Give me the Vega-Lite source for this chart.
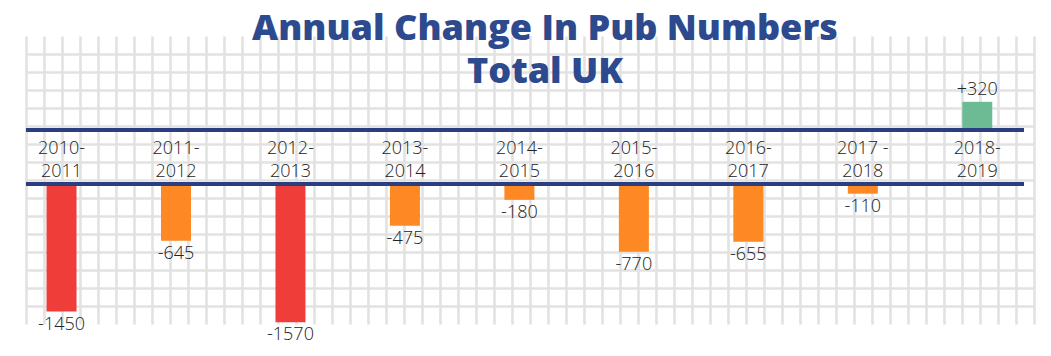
{
  "$schema": "https://vega.github.io/schema/vega-lite/v6.json",
  "width": 1008,
  "height": 288,
  "autosize": {"type": "none"},
  "padding": {"left": 26, "top": 36, "right": 17, "bottom": 32},
  "background": "white",
  "config": {
    "view": {"stroke": null},
    "locale": {"number": {"decimal": ".", "thousands": ",", "grouping": [3], "currency": ["£", ""], "minus": "-"}}
  },
  "title": {
    "text": ["Annual Change In Pub Numbers", "Total UK"],
    "font": "Open Sans",
    "fontWeight": 800,
    "fontSize": 36,
    "color": "#2c4a8d",
    "lineHeight": 43,
    "anchor": "middle",
    "frame": "group",
    "offset": -55,
    "dx": 15
  },
  "data": {
    "values": [
      {"period": "2010-\n2011", "change": -1450, "type": "Large fall"},
      {"period": "2011-\n2012", "change": -645, "type": "Fall"},
      {"period": "2012-\n2013", "change": -1570, "type": "Large fall"},
      {"period": "2013-\n2014", "change": -475, "type": "Fall"},
      {"period": "2014-\n2015", "change": -180, "type": "Fall"},
      {"period": "2015-\n2016", "change": -770, "type": "Fall"},
      {"period": "2016-\n2017", "change": -655, "type": "Fall"},
      {"period": "2017 -\n2018", "change": -110, "type": "Fall"},
      {"period": "2018-\n2019", "change": 320, "type": "Rise"}
    ]
  },
  "layer": [
    {
      "mark": {"type": "point", "opacity": 0},
      "encoding": {
        "x": {
          "datum": 0,
          "type": "quantitative",
          "scale": {"domain": [0, 56], "nice": false, "zero": false},
          "axis": {"grid": true, "gridColor": "#e2e2e2", "gridWidth": 2.6, "labels": false, "ticks": false, "domain": false, "title": null, "tickCount": 56}
        },
        "y": {
          "datum": 0,
          "type": "quantitative",
          "scale": {"domain": [0, 16], "nice": false, "zero": false},
          "axis": {"grid": true, "gridColor": "#e2e2e2", "gridWidth": 2.6, "labels": false, "ticks": false, "domain": false, "title": null, "values": [1, 2, 3, 4, 5, 6, 7, 8, 9, 10, 11, 12, 13, 14, 15]}
        }
      }
    },
    {
      "layer": [
        {
          "transform": [{"filter": "datum.change < 0"}],
          "mark": {"type": "bar", "size": 30, "yOffset": 54, "y2Offset": 54},
          "encoding": {
            "x": {
              "field": "period",
              "type": "nominal",
              "sort": null,
              "scale": {"domain": ["2010-\n2011", "2011-\n2012", "2012-\n2013", "2013-\n2014", "2014-\n2015", "2015-\n2016", "2016-\n2017", "2017 -\n2018", "2018-\n2019"], "range": [-21.7, 1008.5], "paddingInner": 0, "paddingOuter": 0},
              "axis": null
            },
            "y": {"field": "change", "type": "quantitative", "scale": {"domain": [-2204.5, 1068.2], "nice": false, "zero": false}, "axis": null},
            "y2": {"datum": 0},
            "color": {"field": "type", "type": "nominal", "scale": {"domain": ["Large fall", "Fall", "Rise"], "range": ["#ef3d3a", "#fd8824", "#6dbb95"]}, "legend": null}
          }
        },
        {
          "transform": [{"filter": "datum.change >= 0"}],
          "mark": {"type": "bar", "size": 30},
          "encoding": {
            "x": {"field": "period", "type": "nominal", "sort": null},
            "y": {"field": "change", "type": "quantitative"},
            "y2": {"datum": 0},
            "color": {"field": "type", "type": "nominal"}
          }
        },
        {
          "mark": {"type": "rule", "color": "#2b3e80", "strokeWidth": 3.5, "xOffset": -10, "x2Offset": -10},
          "encoding": {"y": {"datum": 0, "type": "quantitative"}}
        },
        {
          "mark": {"type": "rule", "color": "#2b3e80", "strokeWidth": 3.5, "xOffset": -10, "x2Offset": -10, "yOffset": 54},
          "encoding": {"y": {"datum": 0, "type": "quantitative"}}
        },
        {
          "mark": {"type": "text", "font": "Open Sans", "fontWeight": 300, "fontSize": 18, "color": "#222222", "baseline": "middle", "align": "center", "lineBreak": "\n", "lineHeight": 23, "yOffset": 19},
          "encoding": {
            "x": {"field": "period", "type": "nominal", "sort": null},
            "y": {"datum": 0, "type": "quantitative"},
            "text": {"field": "period"}
          }
        },
        {
          "transform": [{"filter": "datum.change < 0"}],
          "mark": {"type": "text", "font": "Open Sans", "fontWeight": 300, "fontSize": 18, "color": "#222222", "baseline": "top", "align": "center", "yOffset": 58},
          "encoding": {
            "x": {"field": "period", "type": "nominal", "sort": null},
            "y": {"field": "change", "type": "quantitative"},
            "text": {"field": "change", "type": "quantitative", "format": "+d"}
          }
        },
        {
          "transform": [{"filter": "datum.change >= 0"}],
          "mark": {"type": "text", "font": "Open Sans", "fontWeight": 300, "fontSize": 18, "color": "#222222", "baseline": "bottom", "align": "center", "yOffset": -3},
          "encoding": {
            "x": {"field": "period", "type": "nominal", "sort": null},
            "y": {"field": "change", "type": "quantitative"},
            "text": {"field": "change", "type": "quantitative", "format": "+d"}
          }
        }
      ]
    }
  ],
  "resolve": {"scale": {"x": "independent", "y": "independent"}, "axis": {"x": "independent", "y": "independent"}}
}
